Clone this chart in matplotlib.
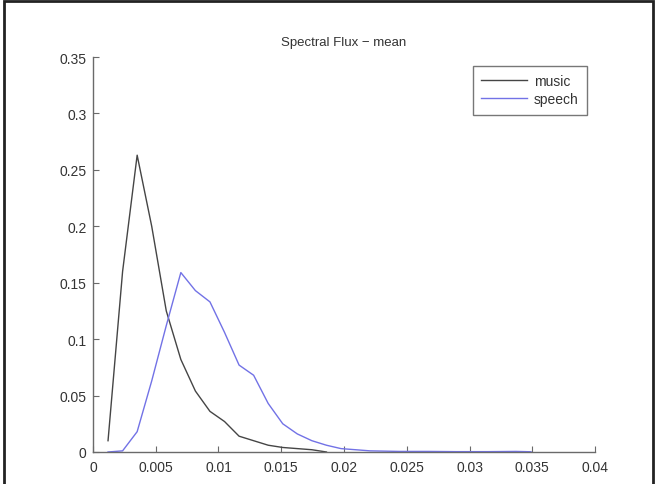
import matplotlib
matplotlib.use("Agg")
import matplotlib.pyplot as plt
from matplotlib.patches import Rectangle

# Histogram bin centres (Spectral Flux mean)
bin_x = [0.0012, 0.00236, 0.00352, 0.00468, 0.00584, 0.0070, 0.00816, 0.00932,
         0.01048, 0.01164, 0.0128, 0.01396, 0.01512, 0.01628, 0.01744, 0.0186]
music = [0.010, 0.160, 0.263, 0.200, 0.125, 0.082, 0.054, 0.036,
         0.027, 0.014, 0.010, 0.006, 0.004, 0.003, 0.002, 0.000]

speech_x = [0.0012, 0.00236, 0.00352, 0.00468, 0.00584, 0.0070, 0.00816, 0.00932,
            0.01048, 0.01164, 0.0128, 0.01396, 0.01512, 0.01628, 0.01744, 0.0186,
            0.01976, 0.02092, 0.02208, 0.0244, 0.0267, 0.0290, 0.0314, 0.0337, 0.0349]
speech = [0.000, 0.001, 0.018, 0.063, 0.112, 0.159, 0.143, 0.133,
          0.106, 0.077, 0.068, 0.043, 0.025, 0.016, 0.010, 0.006,
          0.003, 0.002, 0.001, 0.0005, 0.0005, 0.0003, 0.0003, 0.0005, 0.0002]

xticks = [0, 0.005, 0.01, 0.015, 0.02, 0.025, 0.03, 0.035, 0.04]
xticklabels = ["0", "0.005", "0.01", "0.015", "0.02", "0.025", "0.03", "0.035", "0.04"]
yticks = [0, 0.05, 0.1, 0.15, 0.2, 0.25, 0.3, 0.35]
yticklabels = ["0", "0.05", "0.1", "0.15", "0.2", "0.25", "0.3", "0.35"]

plt.rcParams['font.family'] = ['Liberation Sans', 'DejaVu Sans']

fig = plt.figure(figsize=(6.58, 4.85), dpi=100)
fig.patches.append(Rectangle((0.006, -0.05), 0.986, 1.045, transform=fig.transFigure,
                             fill=False, edgecolor='#222222', linewidth=2))

ax = fig.add_axes([0.1413, 0.066, 0.763, 0.8144])
ax.plot(bin_x, music, color='#454545', linewidth=1.0, label='music')
ax.plot(speech_x, speech, color='#7272e6', linewidth=1.0, label='speech')

ax.set_xlim(0, 0.04)
ax.set_ylim(0, 0.35)
ax.set_xticks(xticks)
ax.set_xticklabels(xticklabels)
ax.set_yticks(yticks)
ax.set_yticklabels(yticklabels)

for s in ['top', 'right']:
    ax.spines[s].set_visible(False)
for s in ['left', 'bottom']:
    ax.spines[s].set_color('#6a6a6a')
    ax.spines[s].set_linewidth(1.0)

ax.tick_params(direction='in', length=4, width=0.8, colors='#6a6a6a',
               labelcolor='#333333', labelsize=10)
ax.tick_params(axis='x', pad=6)
ax.tick_params(axis='y', pad=4.5)

ax.set_title('Spectral Flux \u2212 mean', fontsize=9.5, color='#333333', pad=9)

leg = ax.legend(loc='upper right', bbox_to_anchor=(0.984, 0.978), fontsize=10,
                frameon=True, fancybox=False, handlelength=3.3, handletextpad=0.5,
                borderpad=0.6, labelspacing=0.3, borderaxespad=0)
leg.get_frame().set_edgecolor('#555555')
leg.get_frame().set_linewidth(1.0)
for t in leg.get_texts():
    t.set_color('#333333')

fig.savefig('out.png', dpi=100)
